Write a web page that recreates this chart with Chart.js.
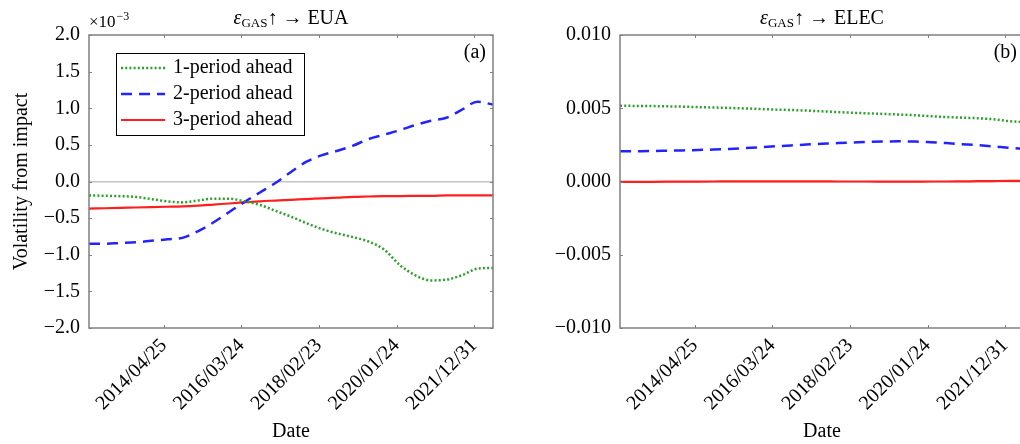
<!DOCTYPE html>
<html><head><meta charset="utf-8">
<script src="https://cdn.jsdelivr.net/npm/chart.js@4.4.1/dist/chart.umd.min.js"></script>
<style>
html,body{margin:0;padding:0;background:#fff;width:1020px;height:444px;overflow:hidden;position:relative;}
#c1{position:absolute;left:0;top:0;}
#c2{position:absolute;left:505px;top:0;}
</style></head><body>
<canvas id="c1" width="510" height="444"></canvas>
<canvas id="c2" width="525" height="444"></canvas>
<script>
// ---------- data ----------
const obsIndex = [0,100,200,300,400,500,600,700,800,900,1000,1100,1200,1300,1400,1500,1600,1700,1800,1900,2000,2100,2200,2300,2400,2500,2600];
const xTickPos = [482,981,1480,1979,2478];
const xTickLabels = ['2014/04/25','2016/03/24','2018/02/23','2020/01/24','2021/12/31'];
const seriesNames = ['1-period ahead','2-period ahead','3-period ahead'];

// panel (a): GAS shock -> EUA, values in units of 10^-3
const euaAhead1 = [-0.19,-0.195,-0.20,-0.21,-0.24,-0.27,-0.285,-0.26,-0.235,-0.235,-0.27,-0.32,-0.40,-0.48,-0.57,-0.65,-0.71,-0.76,-0.82,-0.93,-1.14,-1.28,-1.35,-1.34,-1.28,-1.19,-1.18];
const euaAhead2 = [-0.85,-0.85,-0.84,-0.83,-0.81,-0.79,-0.77,-0.68,-0.56,-0.42,-0.28,-0.15,-0.02,0.13,0.27,0.36,0.42,0.49,0.58,0.64,0.70,0.77,0.83,0.87,0.98,1.09,1.05];
const euaAhead3 = [-0.37,-0.365,-0.36,-0.355,-0.35,-0.345,-0.34,-0.33,-0.315,-0.30,-0.285,-0.27,-0.26,-0.25,-0.24,-0.23,-0.22,-0.21,-0.205,-0.20,-0.20,-0.195,-0.195,-0.19,-0.19,-0.19,-0.19];
const euaYTicks = [-2,-1.5,-1,-0.5,0,0.5,1,1.5,2];
const euaYLabels = ['\u22122.0','\u22121.5','\u22121.0','\u22120.5','0.0','0.5','1.0','1.5','2.0'];

// panel (b): GAS shock -> ELEC
const elecAhead1 = [0.00517,0.00516,0.00515,0.00513,0.00511,0.00508,0.00505,0.00502,0.00499,0.00495,0.00491,0.00488,0.00484,0.00479,0.00474,0.00469,0.00465,0.00461,0.00457,0.00452,0.00446,0.00440,0.00436,0.00432,0.00425,0.00412,0.00405];
const elecAhead2 = [0.00206,0.00207,0.00208,0.00210,0.00212,0.00215,0.00218,0.00222,0.00228,0.00234,0.00240,0.00246,0.00252,0.00257,0.00262,0.00266,0.00270,0.00273,0.00274,0.00273,0.00268,0.00262,0.00255,0.00248,0.00240,0.00230,0.00222];
const elecAhead3 = [-0.00003,-0.000025,-0.00002,-0.000015,-0.00001,-0.000005,0,0.000005,0.00001,0.00001,0.00001,0.00001,0.000005,0.000005,0,0,0,-0.000005,-0.000005,-0.000005,0,0,0.00001,0.00002,0.00003,0.00004,0.00004];
const elecYTicks = [-0.01,-0.005,0,0.005,0.01];
const elecYLabels = ['\u22120.010','\u22120.005','0.000','0.005','0.010'];

// ---------- styling ----------
const FONT = '"Liberation Serif", "Times New Roman", serif';
Chart.defaults.font.family = FONT;
Chart.defaults.font.size = 20;
Chart.defaults.color = '#000';

const lineStyles = [
  {borderColor:'#2ea02e', borderDash:[2,2.2], borderWidth:2.5},
  {borderColor:'#2323ff', borderDash:[11,7], borderWidth:2.5},
  {borderColor:'#ff1f1f', borderDash:[], borderWidth:2.2}
];

function makeDatasets(arrs){
  return arrs.map((arr,i)=>Object.assign({
    label: seriesNames[i],
    data: obsIndex.map((x,j)=>({x:x, y:arr[j]})),
    pointRadius:0, fill:false, cubicInterpolationMode:'monotone'
  }, lineStyles[i]));
}

const decor = {
  id:'decor',
  afterDatasetsDraw(chart, args, o){
    const {ctx, chartArea:a, scales:{x,y}} = chart;
    ctx.save();
    // frame
    ctx.strokeStyle = '#808080'; ctx.lineWidth = 1.5; ctx.setLineDash([]);
    ctx.strokeRect(a.left, a.top, a.right-a.left, a.bottom-a.top);
    ctx.lineWidth = 1;
    ctx.beginPath();
    x.ticks.forEach(t=>{ const p = Math.round(x.getPixelForValue(t.value))+0.5;
      ctx.moveTo(p,a.bottom); ctx.lineTo(p,a.bottom-3); ctx.moveTo(p,a.top); ctx.lineTo(p,a.top+3); });
    y.ticks.forEach(t=>{ const p = Math.round(y.getPixelForValue(t.value))+0.5;
      ctx.moveTo(a.left,p); ctx.lineTo(a.left+3,p); ctx.moveTo(a.right,p); ctx.lineTo(a.right-3,p); });
    ctx.stroke();
    // title
    ctx.fillStyle = '#000'; ctx.textBaseline = 'alphabetic'; ctx.textAlign = 'left';
    const parts = [
      {t:'\u03b5', f:'italic 20px '+FONT, dy:0},
      {t:'GAS', f:'13px '+FONT, dy:3},
      {t:'\u2191 \u2192 '+o.target, f:'20px '+FONT, dy:0}
    ];
    let w = 0; parts.forEach(p=>{ctx.font=p.f; p.w=ctx.measureText(p.t).width; w+=p.w;});
    let tx = (a.left+a.right)/2 - w/2;
    parts.forEach(p=>{ctx.font=p.f; ctx.fillText(p.t, tx, 24+p.dy); tx+=p.w;});
    // panel tag
    ctx.font = '20px '+FONT; ctx.textAlign = 'right';
    ctx.fillText(o.tag, a.right-7, 58);
    // exponent
    if (o.exponent){
      ctx.textAlign = 'left';
      ctx.font = '17px '+FONT; ctx.fillText('\u00d710', a.left, 27);
      const ew = ctx.measureText('\u00d710').width;
      ctx.font = '12px '+FONT; ctx.fillText('\u22123', a.left+ew+1, 20);
    }
    // legend
    if (o.legend){
      const bx = a.left+27, by = a.top+18;
      ctx.strokeStyle = '#000'; ctx.lineWidth = 1;
      ctx.strokeRect(Math.round(bx)+0.5, Math.round(by)+0.5, 188, 82);
      chart.data.datasets.forEach((ds,i)=>{
        const ly = by + 15 + i*26;
        ctx.strokeStyle = ds.borderColor; ctx.lineWidth = ds.borderWidth;
        ctx.setLineDash(ds.borderDash||[]);
        ctx.beginPath(); ctx.moveTo(bx+5, ly); ctx.lineTo(bx+49, ly); ctx.stroke();
        ctx.setLineDash([]);
        ctx.fillStyle = '#000'; ctx.font = '20px '+FONT; ctx.textAlign='left'; ctx.textBaseline='middle';
        ctx.fillText(ds.label, bx+57, ly);
      });
    }
    ctx.restore();
  }
};

function makeChart(id, arrs, yTicks, yLabels, yWidth, padRight, opts, yTitle){
  return new Chart(document.getElementById(id), {
    type:'line',
    data:{datasets: makeDatasets(arrs)},
    options:{
      responsive:false, animation:false, devicePixelRatio:1,
      layout:{padding:{left:0, top:35, right:padRight, bottom:0}},
      plugins:{legend:{display:false}, tooltip:{enabled:false}, decor:opts},
      scales:{
        x:{type:'linear', min:obsIndex[0], max:obsIndex[obsIndex.length-1],
          afterBuildTicks:s=>{ s.ticks = xTickPos.map(v=>({value:v})); },
          afterFit:s=>{ s.height = 116; },
          grid:{display:false}, border:{display:false},
          ticks:{autoSkip:false, minRotation:45, maxRotation:45, padding:-2,
            callback:(v,i)=>xTickLabels[i], font:{size:20}},
          title:{display:true, text:'Date', font:{size:20}, padding:{top:0,bottom:0}}
        },
        y:{type:'linear', min:yTicks[0], max:yTicks[yTicks.length-1],
          afterBuildTicks:s=>{ s.ticks = yTicks.map(v=>({value:v})); },
          afterFit:s=>{ s.width = yWidth; },
          border:{display:false},
          grid:{drawTicks:false, lineWidth:1.5,
            color:c=>(c.tick && c.tick.value===0) ? '#c4c4c4' : 'rgba(0,0,0,0)'},
          ticks:{padding:9, callback:(v,i)=>yLabels[i], font:{size:20}},
          title:{display:!!yTitle, text:yTitle||'', font:{size:20}, padding:{top:10,bottom:0}}
        }
      }
    },
    plugins:[decor]
  });
}

makeChart('c1', [euaAhead1,euaAhead2,euaAhead3], euaYTicks, euaYLabels, 89, 17,
  {target:'EUA', tag:'(a)', exponent:true, legend:true}, 'Volatility from impact');
makeChart('c2', [elecAhead1,elecAhead2,elecAhead3], elecYTicks, elecYLabels, 115, 6,
  {target:'ELEC', tag:'(b)', exponent:false, legend:false}, null);
</script>
</body></html>
